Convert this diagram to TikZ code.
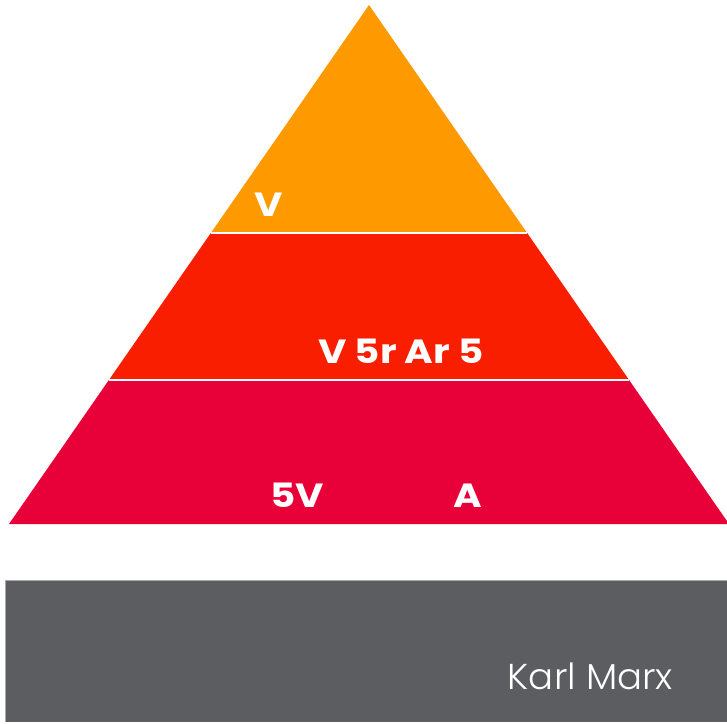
\documentclass[tikz,border=0pt]{standalone}
\usepackage{fontspec}
\setmainfont{Poppins}
\newfontfamily\widefont{Poppins}[FakeStretch=1.16]
\newfontfamily\lightfont{Poppins}[UprightFont=* Light, FakeStretch=1.03]
\definecolor{cTop}{HTML}{FF9900}
\definecolor{cMid}{HTML}{FA1E00}
\definecolor{cBot}{HTML}{E80038}
\definecolor{cBar}{HTML}{5C5D61}
\definecolor{cBarEdge}{HTML}{A8A8AA}
\tikzset{
  lbl/.style={text=white, font=\widefont\fontsize{33.5}{36}\selectfont\bfseries, inner sep=0pt, anchor=base},
  sep/.style={draw=white, line width=2pt},
}
\begin{document}
\begin{tikzpicture}[x=1pt,y=-1pt]
\useasboundingbox (0,0) rectangle (727,723);
\clip (0,0) rectangle (727,723);
\fill[white] (0,0) rectangle (727,723);
% bands
\fill[cTop] (369,5) -- (527.15,233) -- (210.85,233) -- cycle;
\fill[cMid] (210.85,233) -- (527.15,233) -- (629.1,380) -- (108.9,380) -- cycle;
\fill[cBot] (108.9,380) -- (629.1,380) -- (729,524) -- (9,524) -- cycle;
\coordinate (s1l) at (210.85,233); \coordinate (s1r) at (527.15,233);
\coordinate (s2l) at (108.9,380); \coordinate (s2r) at (629.1,380);
\draw[sep] (s1l) -- (s1r);
\draw[sep] (s2l) -- (s2r);
% labels
\node[lbl] (t1) at (269,216) {V};
\node[lbl] (t2) at (401,363) {V 5r Ar 5};
\node[lbl] (t3a) at (297.5,507) {5V};
\node[lbl] (t3b) at (468,507) {A};
% bar
\fill[cBar] (5,580) rectangle (728,722);
\draw[cBarEdge, line width=1.5pt] (5.5,722) -- (5.5,580.5) -- (728,580.5);
\node[text=white, font=\lightfont\fontsize{36}{40}\selectfont, inner sep=0pt, anchor=base east] (km) at (673,689) {Karl Marx};
\end{tikzpicture}
\end{document}
